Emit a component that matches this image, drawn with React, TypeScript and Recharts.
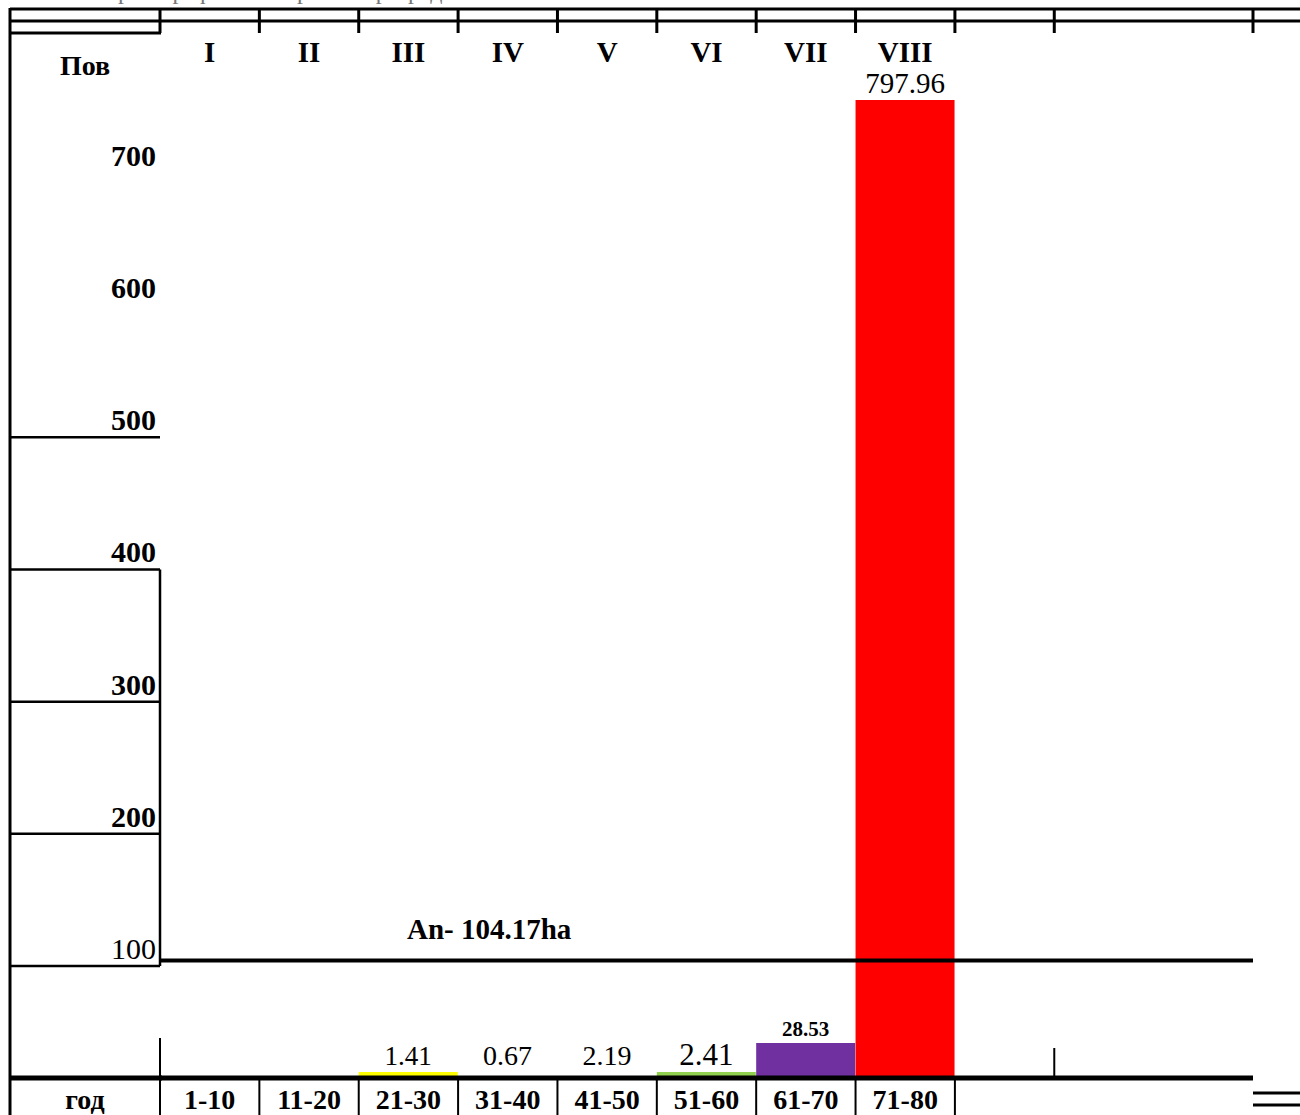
import React from "react";
import {
  BarChart,
  Bar,
  XAxis,
  YAxis,
  Cell,
  LabelList,
  ReferenceLine,
  ReferenceArea
} from "recharts";

// age classes (bottom row) and their roman numerals (top row)
const ageClasses = ["1-10", "11-20", "21-30", "31-40", "41-50", "51-60", "61-70", "71-80", "", "", ""];
const romanClasses = ["I", "II", "III", "IV", "V", "VI", "VII", "VIII", "", "", ""];
// area per class, ha
const areaValues = [null, null, 1.41, 0.67, 2.19, 2.41, 28.53, 797.96, null, null, null];
const scaleTicks = [100, 200, 300, 400, 500, 600, 700];
const normalArea = 104.17;

const barColors = ["#fff", "#fff", "#FFFF00", "#fff", "#fff", "#92D050", "#7030A0", "#FF0000", "#fff", "#fff", "#fff"];
const labelSizes = [28, 28, 27, 28, 28, 31, 21, 29, 28, 28, 28];
const labelBold = [false, false, false, false, false, false, true, false, false, false, false];

const data = ageClasses.map((c, i) => ({
  age: c,
  roman: romanClasses[i],
  value: areaValues[i]
}));

const FONT = "'Liberation Serif', 'Times New Roman', serif";

const TopTick = (props: any) => {
  const { x, y, payload } = props;
  const half = payload.offset || 49.7;
  const idx = payload.index;
  return (
    <g>
      {idx !== 10 && (
        <line x1={x - half} x2={x - half} y1={y - 91} y2={y - 67} stroke="#000" strokeWidth={3} />
      )}
      {idx === 10 && (
        <line x1={x + half} x2={x + half} y1={y - 91} y2={y - 67} stroke="#000" strokeWidth={3} />
      )}
      <text x={x} y={y - 38} textAnchor="middle" fontFamily={FONT} fontWeight="bold" fontSize={29} fill="#000">
        {payload.value}
      </text>
    </g>
  );
};

const BottomTick = (props: any) => {
  const { x, y, payload } = props;
  const half = payload.offset || 49.7;
  const idx = payload.index;
  return (
    <g>
      {idx === 0 && <line x1={x - half} x2={x - half} y1={y - 40} y2={y + 40} stroke="#000" strokeWidth={2} />}
      {idx > 0 && idx <= 7 && <line x1={x - half} x2={x - half} y1={y} y2={y + 40} stroke="#000" strokeWidth={2} />}
      {idx === 7 && <line x1={x + half} x2={x + half} y1={y} y2={y + 40} stroke="#000" strokeWidth={2} />}
      {idx === 9 && <line x1={x - half} x2={x - half} y1={y - 30} y2={y} stroke="#000" strokeWidth={2} />}
      <text x={x} y={y + 31} textAnchor="middle" fontFamily={FONT} fontWeight="bold" fontSize={28} fill="#000">
        {payload.value}
      </text>
    </g>
  );
};

const LeftTick = (props: any) => {
  const { x, y, payload } = props;
  const v = payload.value;
  return (
    <g>
      {v <= 500 && <line x1={10} x2={x} y1={y} y2={y} stroke="#000" strokeWidth={2.5} />}
      <text x={x - 4} y={y - 7} textAnchor="end" fontFamily={FONT} fontWeight={v === 100 ? "normal" : "bold"} fontSize={30} fill="#000">
        {v}
      </text>
    </g>
  );
};

const BarValue = (props: any) => {
  const { x, y, width, value } = props;
  if (value == null) return null;
  const i = areaValues.indexOf(value);
  return (
    <text
      x={x + width / 2}
      y={y - 7}
      textAnchor="middle"
      fontFamily={FONT}
      fontSize={labelSizes[i]}
      fontWeight={labelBold[i] ? "bold" : "normal"}
      fill="#000"
    >
      {value.toFixed(2)}
    </text>
  );
};

export default function App() {
  return (
    <div style={{ position: "absolute", left: 0, top: 0, width: 1300, height: 1115, background: "#fff", overflow: "hidden" }}>
      <BarChart
        width={1300}
        height={1115}
        data={data}
        margin={{ top: 0, right: 47, left: 10, bottom: 0 }}
        barCategoryGap={0}
        barGap={0}
      >
        <XAxis
          xAxisId="top"
          orientation="top"
          dataKey="roman"
          height={100}
          axisLine={false}
          tickLine={false}
          tickSize={0}
          tickMargin={0}
          interval={0}
          tick={<TopTick />}
        />
        <XAxis
          xAxisId="bottom"
          dataKey="age"
          height={37}
          axisLine={{ stroke: "#000", strokeWidth: 5 }}
          tickLine={false}
          tickSize={0}
          tickMargin={0}
          interval={0}
          tick={<BottomTick />}
          label={(p: any) => (
            <text x={p.viewBox.x - 75} y={p.viewBox.y + 31} textAnchor="middle" fontFamily={FONT} fontWeight="bold" fontSize={28} fill="#000">
              год
            </text>
          )}
        />
        <YAxis yAxisId="bars" domain={[0, 798]} hide width={0} allowDataOverflow />
        <YAxis
          yAxisId="scale"
          orientation="left"
          width={150}
          domain={[15.26, 755.2]}
          ticks={scaleTicks}
          axisLine={false}
          tickLine={false}
          tickSize={0}
          tickMargin={0}
          allowDataOverflow
          tick={<LeftTick />}
          label={(p: any) => (
            <text x={p.viewBox.x + 75} y={p.viewBox.y - 25} textAnchor="middle" fontFamily={FONT} fontWeight="bold" fontSize={28} fill="#000">
              Пов
            </text>
          )}
        />
        <ReferenceArea
          yAxisId="scale"
          xAxisId="bottom"
          y1={100}
          y2={400}
          ifOverflow="visible"
          shape={(p: any) => (
            <line x1={p.x} x2={p.x} y1={p.y} y2={p.y + p.height} stroke="#000" strokeWidth={2.5} />
          )}
        />
        <Bar dataKey="value" yAxisId="bars" xAxisId="bottom" minPointSize={6} isAnimationActive={false}>
          {data.map((d, i) => (
            <Cell key={i} fill={barColors[i]} />
          ))}
          <LabelList dataKey="value" content={<BarValue />} />
        </Bar>
        <ReferenceLine
          yAxisId="scale"
          xAxisId="bottom"
          y={normalArea}
          stroke="#000"
          strokeWidth={4}
          label={(p: any) => (
            <text x={p.viewBox.x + 247} y={p.viewBox.y - 21} fontFamily={FONT} fontWeight="bold" fontSize={29} fill="#000">
              {"An- " + normalArea + "ha"}
            </text>
          )}
        />
      </BarChart>
      <svg width={1300} height={1115} style={{ position: "absolute", left: 0, top: 0, pointerEvents: "none" }}>
        <text x={30} y={-1} fontFamily={FONT} fontSize={24} fill="#777">
          Табела бр. 4 Графикон старосних разреда
        </text>
        <line x1={10} x2={1300} y1={9} y2={9} stroke="#000" strokeWidth={3} />
        <line x1={10} x2={1300} y1={21} y2={21} stroke="#000" strokeWidth={3} />
        <line x1={10} x2={161} y1={33} y2={33} stroke="#000" strokeWidth={3} />
        <line x1={10} x2={10} y1={8} y2={1115} stroke="#000" strokeWidth={3} />
        <line x1={10} x2={162} y1={1078} y2={1078} stroke="#000" strokeWidth={5} />
        <line x1={1253} x2={1300} y1={1093} y2={1093} stroke="#000" strokeWidth={3} />
        <line x1={1253} x2={1300} y1={1105} y2={1105} stroke="#000" strokeWidth={3} />
      </svg>
    </div>
  );
}
